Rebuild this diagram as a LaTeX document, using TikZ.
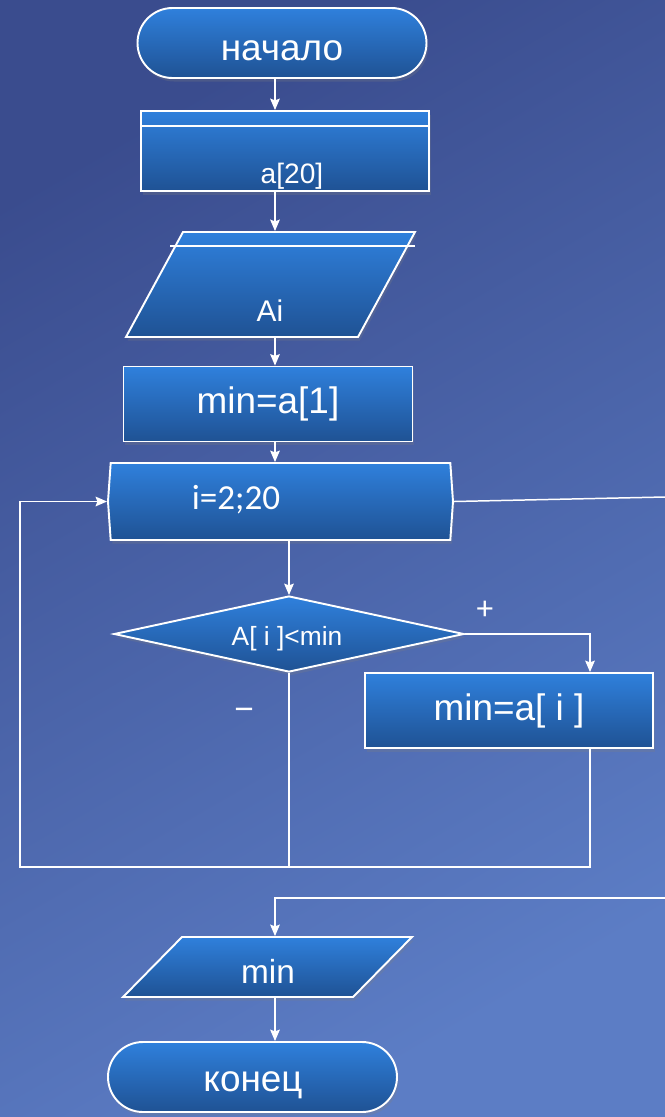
\documentclass[tikz,border=0pt]{standalone}
\usepackage{fontspec}
\setmainfont{Liberation Sans}
\newfontfamily\calfont{Carlito}
\usetikzlibrary{shapes.geometric}
\usetikzlibrary{shapes.symbols}
\usetikzlibrary{arrows.meta}
\usetikzlibrary{shadows}

\definecolor{bgdark}{HTML}{3A4C8E}
\definecolor{bglight}{HTML}{5C7DC5}
\definecolor{boxtop}{HTML}{2F80DC}
\definecolor{boxbot}{HTML}{1F5294}

\begin{document}
\begin{tikzpicture}[x=0.02cm, y=-0.02cm,
            box node/.style={draw=white, line width=1.1pt, top color=boxtop, bottom color=boxbot, text=white, inner sep=0pt,
                drop shadow={opacity=0.25, shadow xshift=1pt, shadow yshift=-2pt}},
            term node/.style={box node, rectangle, rounded corners=0.7cm, minimum width=289*0.02cm, minimum height=70*0.02cm},
            proc node/.style={box node, rectangle, minimum width=288*0.02cm, minimum height=75*0.02cm},
            io node/.style={box node, trapezium},
            text node/.style={text=white, inner sep=0pt},
            flow/.style={draw=white, line width=0.85pt, -{Stealth[length=6.5pt, width=5.5pt, inset=1pt]}},
            link/.style={draw=white, line width=0.85pt},
            ]
            \def\big{\fontsize{21pt}{24pt}\selectfont}

            % background
            \shade[shading=axis, top color=bgdark, bottom color=bglight, shading angle=30] (0,0) rectangle (665,1117);
            \useasboundingbox (0,0) rectangle (665,1117);

            \coordinate (axis) at (275,0);
            \coordinate (yes) at (590,0);
            \coordinate (lb) at (20,867);
            \coordinate (rt) at (665,497);
            \coordinate (rb) at (665,898);

            \node[term node] (start) at (282,43) {};
            \node[text node, font=\big] (startlbl) at (282,51) {начало};
            \node[proc node, minimum height=80*0.02cm] (arr) at (285,151) {};
            \node[text node, font=\fontsize{16pt}{18pt}\selectfont] (arrlbl) at (292,176) {a[20]};
            \node[io node, trapezium left angle=61.5, trapezium right angle=118.5, inner xsep=87.5*0.02cm, inner ysep=52.5*0.02cm] (ai) at (270.5,284.5) {};
            \node[text node, font=\fontsize{17pt}{20pt}\selectfont] (ailbl) at (270,311) {Ai};
            \node[proc node, minimum width=289*0.02cm, font=\big] (mina) at (268,404) {min=a[1]};
            \node[box node, signal, signal to=east and west, signal pointer angle=172, minimum width=345*0.02cm, minimum height=77*0.02cm] (loop) at (280.5,501.5) {};
            \node[text node, font=\calfont\fontsize{20pt}{24pt}\selectfont] (looplbl) at (236,500) {i=2;20};
            \node[box node, diamond, shape aspect=4.6, minimum width=350*0.02cm, minimum height=76*0.02cm] (cond) at (289,634) {};
            \node[text node, font=\fontsize{15pt}{18pt}\selectfont] (condlbl) at (287,639) {A[ i ]<min};
            \node[proc node, font=\big] (minai) at (509,710.5) {min=a[ i ]};
            \node[io node, trapezium left angle=45.5, trapezium right angle=134.5, inner xsep=85.5*0.02cm, inner ysep=30*0.02cm] (out) at (267.5,967) {};
            \node[text node, font=\fontsize{19pt}{22pt}\selectfont] (outlbl) at (268,971) {min};
            \node[term node] (stop) at (252.5,1077) {};
            \node[text node, font=\big] (stoplbl) at (253,1085) {конец};

            \node[text node, font=\calfont\fontsize{19pt}{22pt}\selectfont] (plus) at (485,610) {+};
            \node[text node, font=\fontsize{19pt}{22pt}\selectfont] (minus) at (244,714) {−};

            % inner lines
            \draw[link] ([yshift=-16*0.02cm]arr.north west) -- ([yshift=-16*0.02cm]arr.north east);
            \draw[link] ([xshift=-12*0.02cm, yshift=-15*0.02cm]ai.top left corner) -- ([xshift=-2*0.02cm, yshift=-15*0.02cm]ai.top right corner);

            \draw[flow] (start.south -| axis) -- (arr.north -| axis);
            \draw[flow] (arr.south -| axis) -- (ai.north -| axis);
            \draw[flow] (ai.south -| axis) -- (mina.north -| axis);
            \draw[flow] (mina.south -| axis) -- (loop.north -| axis);
            \draw[flow] (loop.south -| cond) -- (cond.north);
            \draw[flow] (cond.east) -| (minai.north -| yes);
            \draw[link] (cond.south) -- (cond.south |- lb);
            \draw[flow] (minai.south -| yes) |- (lb) |- (loop.west);
            \draw[link] (loop.east) -- (rt);
            \draw[flow] (rb) -| (out.north -| axis);
            \draw[flow] (out.south -| axis) -- (stop.north -| axis);
        \end{tikzpicture}
\end{document}
